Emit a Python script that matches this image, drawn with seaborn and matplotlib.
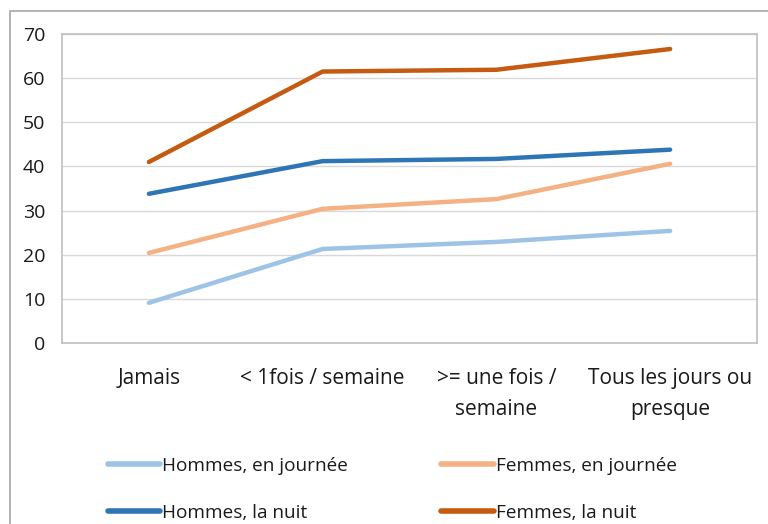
import matplotlib
matplotlib.use("Agg")
import matplotlib.pyplot as plt
import seaborn as sns
import pandas as pd
from matplotlib.patches import Rectangle
from matplotlib.lines import Line2D

categories = ["Jamais", "< 1fois / semaine", ">= une fois /\nsemaine", "Tous les jours ou\npresque"]
hommes_jour = [9.1, 21.3, 22.9, 25.4]
femmes_jour = [20.4, 30.4, 32.6, 40.6]
hommes_nuit = [33.8, 41.2, 41.7, 43.8]
femmes_nuit = [41.0, 61.5, 61.9, 66.6]
series_names = ["Hommes, en journée", "Femmes, en journée", "Hommes, la nuit", "Femmes, la nuit"]
series_vals = [hommes_jour, femmes_jour, hommes_nuit, femmes_nuit]
colors = ["#9DC3E6", "#F4B183", "#2E75B6", "#C55A11"]

rows = []
for name, vals in zip(series_names, series_vals):
    for i, (c, v) in enumerate(zip(categories, vals)):
        rows.append({"x": i, "cat": c, "value": v, "serie": name})
df = pd.DataFrame(rows)

sns.set_style("white")
plt.rcParams["font.family"] = ["Open Sans", "DejaVu Sans"]

FS = 14

fig = plt.figure(figsize=(7.68, 5.24), dpi=100)
fig.patches.append(Rectangle((10/768, -0.1), 1.2, 1 - 11/524 + 0.1, transform=fig.transFigure,
                             fill=False, edgecolor="#A6A6A6", linewidth=1.2, zorder=0))
ax = fig.add_axes([62/768, 1 - 343/524, (757 - 62)/768, (343 - 34)/524])

sns.lineplot(data=df, x="x", y="value", hue="serie", palette=dict(zip(series_names, colors)),
             hue_order=series_names, linewidth=3.2, ax=ax, legend=False, solid_capstyle="round")

ax.set_xlim(-0.5, 3.5)
ax.set_ylim(0, 70)
ax.set_yticks(range(0, 71, 10))
ax.set_xticks(range(len(categories)))
ax.set_xticklabels(categories, fontsize=15, color="#1A1A1A", linespacing=1.62)
ax.tick_params(axis="y", labelsize=FS, colors="#1A1A1A", length=0, pad=12)
ax.tick_params(axis="x", length=0, pad=18)
ax.set_xlabel("")
ax.set_ylabel("")
ax.grid(axis="y", color="#D9D9D9", linewidth=1)
ax.set_axisbelow(True)
for s in ax.spines.values():
    s.set_color("#BFBFBF")
    s.set_linewidth(1.2)

# row-major order in the reference: reorder for matplotlib's column-major fill
order = [0, 2, 1, 3]
handles = [Line2D([0], [0], color=colors[i], linewidth=4) for i in order]
labels = [series_names[i] for i in order]
leg = fig.legend(handles, labels, loc="upper left", bbox_to_anchor=(108/768, 1 - 457/524),
                 ncol=2, frameon=False, fontsize=13.7, handlelength=2.75, handletextpad=0.1,
                 columnspacing=4.9, labelspacing=1.5, borderaxespad=0, borderpad=0)
for t in leg.get_texts():
    t.set_color("#1A1A1A")

fig.savefig("out.png", dpi=100)
